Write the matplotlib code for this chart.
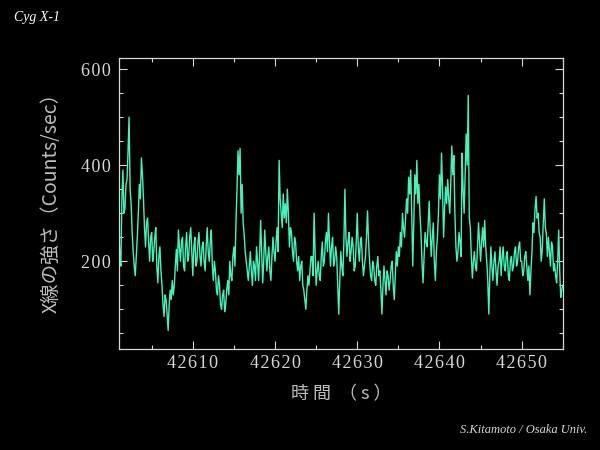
import numpy as np
import matplotlib
matplotlib.use("Agg")
import matplotlib.pyplot as plt
from matplotlib.ticker import MultipleLocator, FuncFormatter

# Cyg X-1 light curve, 0.125 s bins starting at 42601 s (one row = 1 s)
t_start = 42601.0
bin_width = 0.125
counts = [
    260, 215, 190, 330, 390, 300, 310, 360,
    370, 430, 500, 350, 320, 260, 220, 190,
    170, 210, 250, 300, 360, 330, 415, 380,
    330, 270, 230, 280, 290, 240, 200, 250,
    260, 200, 220, 250, 270, 190, 155, 210,
    230, 180, 150, 110, 85, 130, 120, 90,
    56, 110, 140, 120, 160, 130, 150, 190,
    225, 180, 265, 230, 200, 240, 250, 190,
    180, 230, 260, 200, 210, 250, 270, 220,
    170, 230, 250, 190, 200, 240, 260, 210,
    190, 230, 240, 200, 180, 230, 270, 220,
    200, 240, 265, 190, 160, 200, 180, 140,
    130, 170, 150, 110, 100, 130, 140, 95,
    110, 140, 160, 130, 200, 170, 160, 210,
    230, 190, 280, 350, 430, 380, 435, 300,
    360, 280, 255, 220, 200, 180, 160, 190,
    220, 180, 150, 200, 190, 160, 230, 200,
    160, 210, 285, 220, 155, 200, 265, 220,
    180, 210, 230, 180, 160, 210, 250, 220,
    200, 240, 270, 220, 410, 330, 300, 270,
    340, 290, 320, 280, 350, 300, 230, 270,
    260, 220, 200, 250, 240, 200, 180, 210,
    160, 190, 200, 150, 140, 120, 100, 140,
    170, 150, 180, 210, 210, 170, 300, 220,
    150, 180, 200, 170, 160, 210, 240, 190,
    200, 240, 260, 220, 300, 240, 190, 230,
    250, 190, 200, 230, 210, 150, 90, 160,
    220, 190, 170, 240, 350, 250, 210, 240,
    260, 200, 220, 250, 230, 180, 190, 240,
    300, 230, 200, 240, 250, 200, 170, 190,
    210, 250, 305, 240, 200, 170, 160, 200,
    190, 160, 150, 190, 210, 170, 180, 140,
    90, 150, 190, 160, 130, 180, 170, 140,
    160, 190, 200, 150, 120, 170, 220, 190,
    230, 210, 260, 230, 300, 270, 250, 290,
    330, 300, 375, 340, 390, 300, 190, 280,
    380, 340, 410, 320, 360, 300, 260, 200,
    155, 210, 260, 240, 230, 280, 325, 260,
    210, 250, 280, 200, 160, 220, 250, 300,
    380, 330, 425, 350, 250, 310, 355, 320,
    370, 330, 300, 360, 440, 380, 420, 300,
    230, 200, 220, 260, 240, 210, 425, 350,
    300, 380, 465, 400, 545, 290, 270, 210,
    165, 200, 220, 190, 180, 230, 280, 240,
    200, 240, 270, 230, 285, 230, 200, 160,
    90, 170, 230, 190, 160, 200, 220, 180,
    150, 190, 200, 230, 170, 210, 230, 190,
    180, 210, 220, 170, 160, 200, 210, 180,
    190, 220, 230, 190, 200, 230, 240, 200,
    200, 170, 180, 210, 220, 190, 160, 190,
    130, 180, 220, 280, 260, 310, 335, 290,
    300, 260, 250, 200, 223, 280, 330, 270,
    258, 210, 250, 220, 190, 240, 230, 180,
    195, 170, 155, 200, 265, 180, 125, 140,
    150,
]
time = t_start + bin_width * np.arange(len(counts))

x_ticks = [42610, 42620, 42630, 42640, 42650]
y_ticks = [200, 400, 600]

fg = '#d8d8d8'
label_col = '#bdbdbd'
line_col = '#48f0bc'
cjk = ['Noto Sans CJK JP', 'DejaVu Sans']

fig = plt.figure(figsize=(6, 4.5), dpi=100, facecolor='black')
ax = fig.add_axes([0.198, 0.224, 0.740, 0.647], facecolor='black')

ax.plot(time, counts, color=line_col, lw=1.0)

ax.set_xlim(42601, 42655)
ax.set_ylim(17, 623)
ax.set_xticks(x_ticks)
ax.set_yticks(y_ticks)
ax.xaxis.set_minor_locator(MultipleLocator(5))
ax.yaxis.set_minor_locator(MultipleLocator(50))

# wide letter spacing like the original labels
spaced = FuncFormatter(lambda v, p: '\u200a'.join(str(int(v))))
ax.xaxis.set_major_formatter(spaced)
ax.yaxis.set_major_formatter(spaced)

for s in ax.spines.values():
    s.set_color(fg)
    s.set_linewidth(0.9)

ax.tick_params(which='both', direction='in', top=True, right=True, colors=fg, width=0.8)
ax.tick_params(which='major', length=6, pad=6)
ax.tick_params(axis='x', which='major', pad=4)
ax.tick_params(which='minor', length=3)
for lab in ax.get_xticklabels() + ax.get_yticklabels():
    lab.set_fontfamily('Liberation Serif')
    lab.set_fontsize(13)
    lab.set_color(fg)

ax.set_ylabel('X線の強さ（Counts/sec）', family=cjk, fontsize=14, color=label_col)
ax.yaxis.set_label_coords(-0.128, 0.52)
ax.set_xlabel('時 間  （ s ）', family=cjk, fontsize=13, color=label_col, labelpad=10)

fig.text(0.023, 0.96, 'Cyg X-1', family='Liberation Serif', style='italic',
         fontsize=10, color='white', va='center', ha='left')
fig.text(0.978, 0.044, 'S.Kitamoto / Osaka Univ.', family='Liberation Serif',
         style='italic', fontsize=9, color=fg, va='center', ha='right')

fig.savefig('out.png', dpi=100, facecolor='black')
